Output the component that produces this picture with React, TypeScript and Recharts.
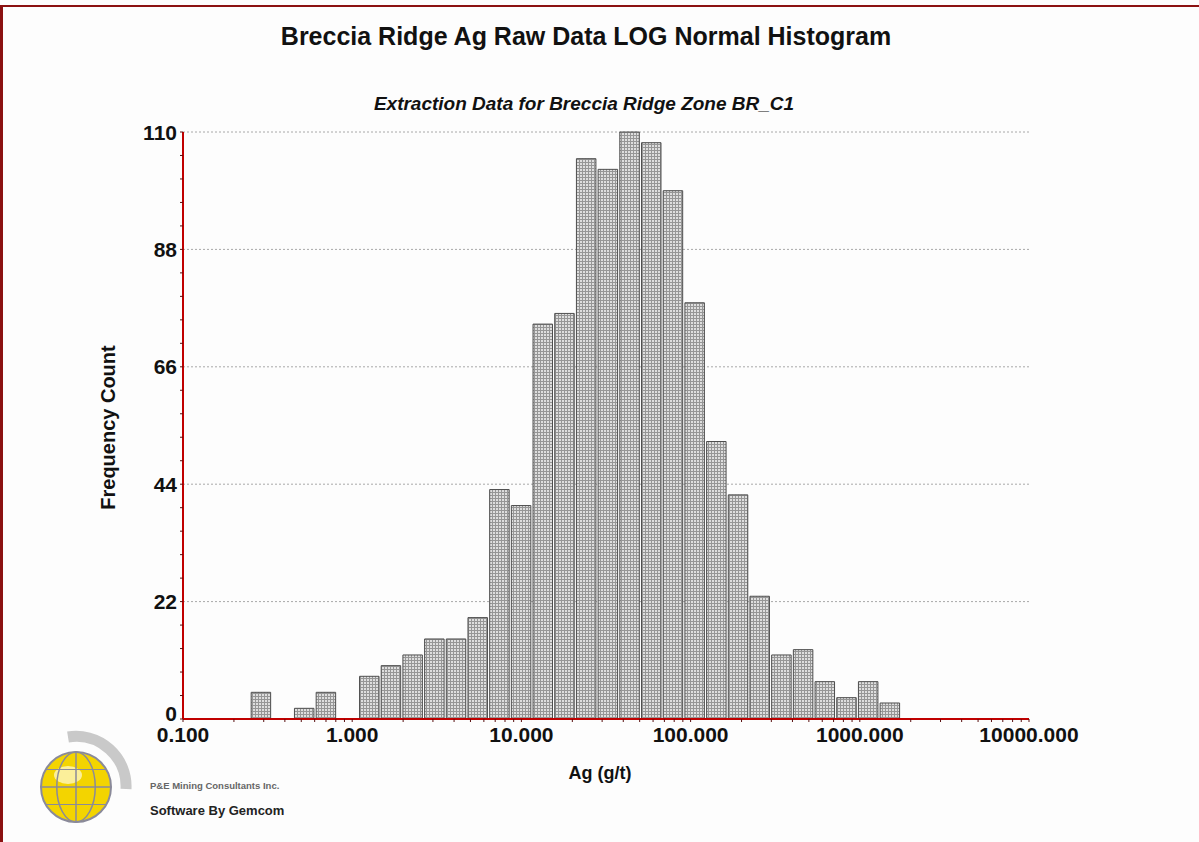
import { BarChart, Bar, XAxis, YAxis, CartesianGrid, Label } from 'recharts'

// bin centres (Ag g/t, log bins) and frequency counts
const binCenters = [
  0.289, 0.388, 0.521, 0.7, 0.94, 1.263, 1.696, 2.279, 3.062, 4.113,
  5.525, 7.423, 9.97, 13.39, 17.99, 24.17, 32.47, 43.62, 58.61, 78.73,
  105.8, 142.1, 190.9, 256.4, 344.5, 462.8, 621.7, 835.2, 1122, 1507,
]
const counts = [
  5, 0, 2, 5, 0, 8, 10, 12, 15, 15,
  19, 43, 40, 74, 76, 105, 103, 110, 108, 99,
  78, 52, 42, 23, 12, 13, 7, 4, 7, 3,
]
const xMajorTicks = [0.1, 1, 10, 100, 1000, 10000]
const xMinorSteps = [2, 3, 4, 5, 6, 7, 8, 9]
const yMajorTicks = [0, 22, 44, 66, 88, 110]
const yTicks = [
  0, 4.4, 8.8, 13.2, 17.6, 22, 26.4, 30.8, 35.2, 39.6, 44, 48.4, 52.8,
  57.2, 61.6, 66, 70.4, 74.8, 79.2, 83.6, 88, 92.4, 96.8, 101.2, 105.6, 110,
]

const data = binCenters.map((c, i) => ({ center: c, count: counts[i] }))

const xTicks = [
  ...xMajorTicks,
  ...xMajorTicks.slice(0, -1).flatMap((d) => xMinorSteps.map((m) => d * m)),
].sort((a, b) => a - b)

const W = 1199
const H = 842
const PLOT_LEFT = 183
const PLOT_RIGHT = 1029
const PLOT_TOP = 132
const PLOT_BOTTOM = 719
const X_AXIS_H = 40

const plotW = PLOT_RIGHT - PLOT_LEFT
const decades = Math.log10(xMajorTicks[xMajorTicks.length - 1] / xMajorTicks[0])
const binWidthPx = (plotW / decades) * Math.log10(binCenters[1] / binCenters[0])

const AXIS_RED = '#c00000'
const FONT = '"Liberation Sans", Arial, Helvetica, sans-serif'

const isMajorX = (v: number) => xMajorTicks.some((t) => Math.abs(t - v) < 1e-9)
const isMajorY = (v: number) => yMajorTicks.includes(v)

function YTick(props: any) {
  const { x, y, payload } = props
  if (!isMajorY(payload.value)) return null
  // the zero label sits a little above the axis so it clears "0.100"
  const dy = payload.value === 0 ? -6 : 0
  return (
    <text x={x} y={y + dy} textAnchor="end" dominantBaseline="central"
      fontFamily={FONT} fontWeight="bold" fontSize={21} fill="#111">
      {payload.value}
    </text>
  )
}

function YTitle(props: any) {
  const vb = props.viewBox || {}
  const x = vb.x + 108
  const y = vb.y + vb.height / 2 + 2
  return (
    <text x={x} y={y} transform={`rotate(-90, ${x}, ${y})`} textAnchor="middle" dominantBaseline="central"
      fontFamily={FONT} fontWeight="bold" fontSize={20} fill="#111">
      Frequency Count
    </text>
  )
}

function XTitle(props: any) {
  const vb = props.viewBox || {}
  const x = vb.x + vb.width / 2 - 6
  return (
    <text x={x} y={vb.y + 60} textAnchor="middle" fontFamily={FONT} fontWeight="bold" fontSize={18} fill="#111">
      Ag (g/t)
    </text>
  )
}

function Logo() {
  const cx = 76
  const cy = 787
  const r = 35
  return (
    <g>
      <path d={`M ${cx - 8} ${cy - 50} A 50 50 0 0 1 ${cx + 50} ${cy + 2}`} fill="none" stroke="#c9c9c9" strokeWidth={11} />
      <circle cx={cx} cy={cy} r={r} fill="#f3d400" stroke="#8a8a9a" strokeWidth={2} />
      <ellipse cx={cx - 8} cy={cy - 12} rx={14} ry={9} fill="#fbef9a" />
      <ellipse cx={cx} cy={cy} rx={r * 0.55} ry={r} fill="none" stroke="#8a8a9a" strokeWidth={1.5} />
      <line x1={cx} y1={cy - r} x2={cx} y2={cy + r} stroke="#8a8a9a" strokeWidth={1.5} />
      <line x1={cx - r} y1={cy} x2={cx + r} y2={cy} stroke="#8a8a9a" strokeWidth={1.5} />
      <line x1={cx - r * 0.86} y1={cy - r * 0.5} x2={cx + r * 0.86} y2={cy - r * 0.5} stroke="#8a8a9a" strokeWidth={1.2} />
      <line x1={cx - r * 0.86} y1={cy + r * 0.5} x2={cx + r * 0.86} y2={cy + r * 0.5} stroke="#8a8a9a" strokeWidth={1.2} />
      <text x={150} y={789} fontFamily={FONT} fontWeight="bold" fontSize={9.5} fill="#666">P&amp;E Mining Consultants Inc.</text>
      <text x={150} y={815} fontFamily={FONT} fontWeight="bold" fontSize={13} fill="#222">Software By Gemcom</text>
    </g>
  )
}

export default function App() {
  return (
    <div style={{ position: 'absolute', left: 0, top: 0, width: W, height: H, background: '#fdfdfd', overflow: 'hidden' }}>
      <svg width={W} height={H} style={{ position: 'absolute', left: 0, top: 0 }}>
        <defs>
          <pattern id="hatch" width={3} height={3} patternUnits="userSpaceOnUse">
            <rect width={3} height={3} fill="#969696" />
            <rect x={1} y={1} width={2} height={2} fill="#dedede" />
          </pattern>
        </defs>
        <line x1={0} y1={6} x2={W} y2={6} stroke="#8b1111" strokeWidth={2} />
        <line x1={1.5} y1={5} x2={1.5} y2={H} stroke="#8b1111" strokeWidth={3} />
        <text x={586} y={45} textAnchor="middle" fontFamily={FONT} fontWeight="bold" fontSize={25} fill="#111">
          Breccia Ridge Ag Raw Data LOG Normal Histogram
        </text>
        <text x={584} y={110} textAnchor="middle" fontFamily={FONT} fontWeight="bold" fontStyle="italic" fontSize={19} fill="#111">
          Extraction Data for Breccia Ridge Zone BR_C1
        </text>
        <Logo />
      </svg>
      <div style={{ position: 'absolute', left: 0, top: 0 }}>
        <BarChart
          width={W}
          height={H}
          data={data}
          margin={{ top: PLOT_TOP, right: W - PLOT_RIGHT, bottom: H - PLOT_BOTTOM - X_AXIS_H, left: 0 }}
          barGap={0}
        >
          <CartesianGrid vertical={false} horizontalValues={[22, 44, 66, 88, 110]} stroke="#a8a8a8" strokeDasharray="2 2" />
          <XAxis
            type="number"
            dataKey="center"
            scale="log"
            domain={[0.1, 10000]}
            allowDataOverflow
            ticks={xTicks}
            interval={0}
            height={X_AXIS_H}
            axisLine={{ stroke: AXIS_RED, strokeWidth: 2 }}
            tickLine={{ stroke: '#5a1010' }}
            tickSize={3}
            tickMargin={5}
            tickFormatter={(v: number) => (isMajorX(v) ? v.toFixed(3) : '')}
            tick={{ fontFamily: FONT, fontWeight: 'bold', fontSize: 21, fill: '#111' }}
          >
            <Label content={XTitle} />
          </XAxis>
          <YAxis
            type="number"
            domain={[0, 110]}
            ticks={yTicks}
            interval={0}
            width={PLOT_LEFT}
            axisLine={{ stroke: AXIS_RED, strokeWidth: 2 }}
            tickLine={{ stroke: '#5a1010' }}
            tickSize={3}
            tickMargin={3}
            tick={<YTick />}
          >
            <Label content={YTitle} />
          </YAxis>
          <Bar
            dataKey="count"
            barSize={binWidthPx}
            fill="url(#hatch)"
            stroke="#4e4e4e"
            strokeWidth={1}
            isAnimationActive={false}
          />
        </BarChart>
      </div>
    </div>
  )
}
